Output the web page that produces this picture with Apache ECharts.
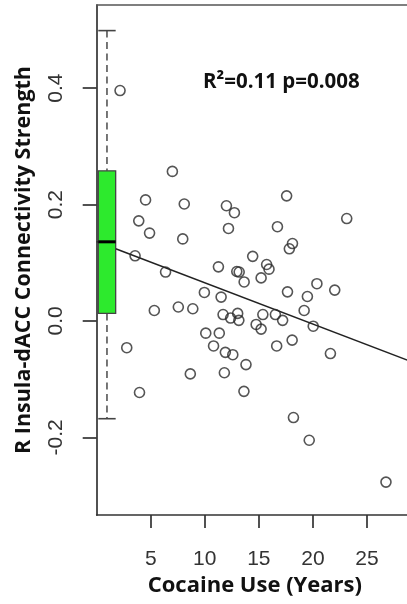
<!DOCTYPE html>
<html>
<head>
<meta charset="utf-8">
<script src="https://cdn.jsdelivr.net/npm/echarts@6/dist/echarts.min.js"></script>
<style>
html,body{margin:0;padding:0;background:#fff;}
#chart{width:407px;height:604px;}
</style>
</head>
<body>
<div id="chart"></div>
<script>
// ---- data ----
const cocaineYears = [2.16,7.0,4.52,8.10,12.0,12.74,17.57,23.13,3.89,4.89,12.19,7.96,16.72,18.11,17.82,3.55,14.43,11.26,15.72,15.94,6.37,12.96,13.18,15.21,13.64,20.37,22.02,9.96,17.65,11.51,19.49,5.33,7.55,8.89,19.19,11.69,13.04,12.39,13.15,15.37,16.53,17.20,14.75,15.21,20.03,10.09,11.34,2.78,10.81,16.65,18.08,11.90,12.59,21.62,13.81,8.66,11.81,3.96,13.62,18.20,19.66,26.76];
const connectivity = [0.396,0.257,0.208,0.201,0.198,0.186,0.215,0.176,0.172,0.151,0.159,0.141,0.162,0.133,0.124,0.112,0.111,0.093,0.097,0.089,0.084,0.085,0.084,0.074,0.067,0.064,0.053,0.049,0.050,0.041,0.042,0.018,0.024,0.021,0.018,0.011,0.013,0.005,0.001,0.011,0.011,0.001,-0.006,-0.014,-0.009,-0.021,-0.021,-0.046,-0.043,-0.043,-0.033,-0.054,-0.058,-0.056,-0.075,-0.091,-0.089,-0.123,-0.121,-0.166,-0.205,-0.277];
// boxplot of connectivity: [lower whisker, Q1, median, Q3, upper whisker]
const boxStats = [-0.168, 0.013, 0.136, 0.258, 0.499];
// regression fit: value = intercept + slope * years
const fitIntercept = 0.1364;
const fitSlope = -0.00709;
const xTicks = [5, 10, 15, 20, 25];
const yTicks = [-0.2, 0.0, 0.2, 0.4];
const annotationText = 'R\u00b2=0.11 p=0.008';
const xTitle = 'Cocaine Use (Years)';
const yTitle = 'R Insula-dACC Connectivity Strength';

// ---- layout ----
const X_MIN = 0, X_MAX = 29.26;
const Y_MIN = -0.3335, Y_MAX = 0.543;
const BOX_CENTER = 0.95, BOX_WIDTH = 1.61;

const points = cocaineYears.map((x, i) => [x, connectivity[i]]);
const fitLine = [[X_MIN, fitIntercept + fitSlope * X_MIN], [X_MAX, fitIntercept + fitSlope * X_MAX]];

const chart = echarts.init(document.getElementById('chart'), null, {renderer: 'canvas'});
const axisColor = '#333';
const labelFont = 'Liberation Sans';
const titleFont = 'Open Sans';

chart.setOption({
  animation: false,
  backgroundColor: '#fff',
  grid: {left: 96.7, right: -6, top: 5, bottom: 89, containLabel: false, outerBoundsMode: 'none'},
  xAxis: [{
    type: 'value', min: X_MIN, max: X_MAX, position: 'bottom',
    axisLine: {show: true, onZero: false, lineStyle: {color: axisColor, width: 1.7}},
    axisTick: {show: true, inside: false, length: 13, customValues: xTicks, lineStyle: {color: axisColor, width: 1.7}},
    axisLabel: {show: true, customValues: xTicks, margin: 34, fontSize: 21, color: '#333', fontFamily: labelFont},
    splitLine: {show: false},
    name: xTitle, nameLocation: 'middle', nameGap: 60,
    nameTextStyle: {fontFamily: titleFont, fontWeight: 'bold', fontSize: 22, color: '#111'}
  }, {
    type: 'value', min: X_MIN, max: X_MAX, position: 'top',
    axisLine: {show: true, onZero: false, lineStyle: {color: '#555', width: 1.5}},
    axisTick: {show: false}, axisLabel: {show: false}, splitLine: {show: false}
  }],
  yAxis: {
    type: 'value', min: Y_MIN, max: Y_MAX, position: 'left',
    axisLine: {show: true, onZero: false, lineStyle: {color: axisColor, width: 1.7}},
    axisTick: {show: true, inside: false, length: 14, customValues: yTicks, lineStyle: {color: axisColor, width: 1.7}},
    axisLabel: {show: true, customValues: yTicks, rotate: 90, margin: 30, fontSize: 21, color: '#333', fontFamily: labelFont,
      formatter: v => v.toFixed(1)},
    splitLine: {show: false},
    name: yTitle, nameLocation: 'middle', nameRotate: 90, nameGap: 62,
    nameTextStyle: {fontFamily: titleFont, fontWeight: 'bold', fontSize: 21.5, color: '#111'}
  },
  series: [{
    type: 'line', data: fitLine, symbol: 'none', silent: true, z: 2,
    lineStyle: {color: '#222', width: 1.6}
  }, {
    type: 'scatter', data: points, symbol: 'circle', symbolSize: 10, z: 3,
    itemStyle: {color: 'rgba(0,0,0,0)', borderColor: '#2a2a2a', borderWidth: 1.6},
    emphasis: {disabled: true}
  }, {
    type: 'custom', z: 5, silent: true,
    data: [[BOX_CENTER].concat(boxStats)],
    renderItem: function (params, api) {
      const cx = api.value(0);
      const lo = api.coord([cx, api.value(1)]);
      const q1 = api.coord([cx, api.value(2)]);
      const md = api.coord([cx, api.value(3)]);
      const q3 = api.coord([cx, api.value(4)]);
      const hi = api.coord([cx, api.value(5)]);
      const hw = api.size([BOX_WIDTH, 0])[0] / 2;
      const px = lo[0];
      const dash = {stroke: '#555', lineWidth: 1.6, lineDash: [7, 4.5]};
      const solid = {stroke: '#444', lineWidth: 1.6};
      return {type: 'group', children: [
        {type: 'line', shape: {x1: px, y1: hi[1], x2: px, y2: q3[1]}, style: dash},
        {type: 'line', shape: {x1: px, y1: q1[1], x2: px, y2: lo[1]}, style: dash},
        {type: 'line', shape: {x1: px - hw, y1: hi[1], x2: px + hw, y2: hi[1]}, style: solid},
        {type: 'line', shape: {x1: px - hw, y1: lo[1], x2: px + hw, y2: lo[1]}, style: solid},
        {type: 'rect', shape: {x: px - hw, y: q3[1], width: 2 * hw, height: q1[1] - q3[1]},
          style: {fill: '#2dea2d', stroke: '#444', lineWidth: 1.3}},
        {type: 'line', shape: {x1: px - hw, y1: md[1], x2: px + hw, y2: md[1]}, style: {stroke: '#000', lineWidth: 3}}
      ]};
    }
  }],
  graphic: [{
    type: 'text', left: 203, top: 72, z: 10,
    style: {text: annotationText, font: 'bold 20.5px "Open Sans"', fill: '#111'}
  }]
});
</script>
</body>
</html>
